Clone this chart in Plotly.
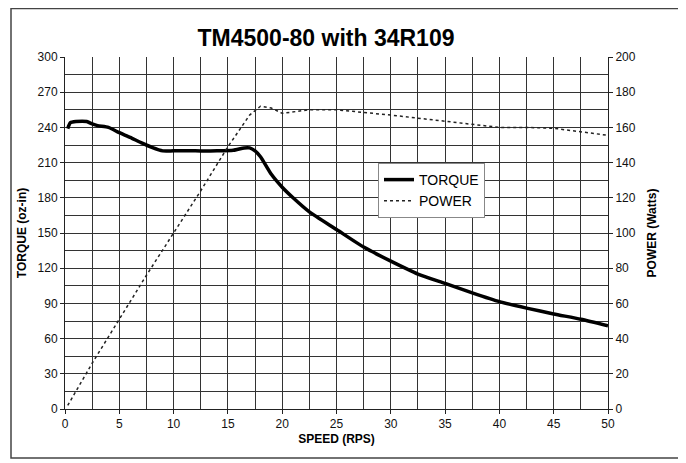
import plotly.graph_objects as go

# ---- data ----
torque_speed = [0.25, 0.5, 1, 2, 2.5, 3, 4, 5, 6, 7, 8, 9, 10, 12, 14, 15.5, 16.5, 17,
                17.5, 18, 19, 20, 21, 22.5, 25, 27.5, 30, 32.5, 35, 37.5, 40, 42.5,
                45, 47.5, 50]
torque = [239, 244, 245, 245, 243, 241.5, 240, 235.5, 231.5, 227, 223, 220, 220, 220,
          220, 220.5, 222.5, 222.5, 220, 215, 200, 189, 180, 168, 153, 138, 126, 115,
          107, 99, 91.5, 86, 81, 76.5, 71]

power_speed = [0.25, 2.5, 5, 7.5, 10, 12.5, 15, 17, 18, 19, 20, 22.5, 25, 30, 35, 40,
               42.5, 45, 50]
power = [2, 26, 51, 76, 100, 124, 149, 167, 172, 171, 168, 170, 170, 167, 163.5, 160,
         160, 159.5, 155.5]

title_text = "TM4500-80 with 34R109"
x_title = "SPEED (RPS)"
y_title = "TORQUE (oz-in)"
y2_title = "POWER (Watts)"

FONT = "Liberation Sans, Arial, sans-serif"
GRID = "#333"

# page body has an 8px margin, so the figure is sized/placed to compensate
W, H = 678, 455
L, T = 57, 49          # plot area left/top inside the figure
PW, PH = 543, 352      # plot area size


def px_x(px):  # window pixel -> paper x
    return (px - 8 - L) / PW


def px_y(py):  # window pixel -> paper y
    return (T + PH - (py - 8)) / PH


fig = go.Figure()
fig.add_trace(go.Scatter(x=torque_speed, y=torque, name="TORQUE", mode="lines",
                         line=dict(color="black", width=3.5, shape="spline", smoothing=0.6)))
fig.add_trace(go.Scatter(x=power_speed, y=power, name="POWER", mode="lines", yaxis="y2",
                         line=dict(color="#222", width=1.5, dash="dot")))

axis_common = dict(showline=True, linecolor="#222", linewidth=1, ticks="outside",
                   ticklen=4, tickcolor="#222", zeroline=False,
                   tickfont=dict(family=FONT, size=12, color="#111"))

fig.update_layout(
    width=W, height=H,
    margin=dict(l=L, r=W - L - PW, t=T, b=H - T - PH, autoexpand=False),
    paper_bgcolor="white", plot_bgcolor="white",
    title=dict(text="<b>" + title_text + "</b>", x=(326 - 8) / W, xanchor="center",
               y=1 - (38 - 8) / H, yanchor="middle",
               font=dict(family=FONT, size=23, color="black")),
    xaxis=dict(range=[0, 50], dtick=5, tick0=0, showgrid=True, gridcolor=GRID, gridwidth=1,
               minor=dict(dtick=2.5, showgrid=True, gridcolor=GRID, gridwidth=1),
               title=dict(text="<b>" + x_title + "</b>", standoff=4,
                          font=dict(family=FONT, size=12, color="black")),
               **axis_common),
    yaxis=dict(range=[0, 300], dtick=30, tick0=0, showgrid=True, gridcolor=GRID, gridwidth=1,
               minor=dict(dtick=15, showgrid=True, gridcolor=GRID, gridwidth=1),
               title=dict(text="<b>" + y_title + "</b>", standoff=8,
                          font=dict(family=FONT, size=12, color="black")),
               **axis_common),
    yaxis2=dict(range=[0, 200], dtick=20, tick0=0, overlaying="y", side="right",
                showgrid=False,
                title=dict(text="<b>" + y2_title + "</b>", standoff=12,
                           font=dict(family=FONT, size=12, color="black")),
                **axis_common),
    legend=dict(x=px_x(378), y=px_y(163), xanchor="left", yanchor="top",
                bgcolor="white", bordercolor="#888", borderwidth=1,
                font=dict(family=FONT, size=14, color="black"),
                itemwidth=30, tracegroupgap=0),
    showlegend=True,
)

# outer frame around the whole chart
fig.add_shape(type="rect", xref="paper", yref="paper",
              x0=px_x(11), x1=px_x(681), y0=px_y(458), y1=px_y(8.5),
              line=dict(color="#444", width=1.5), fillcolor="rgba(0,0,0,0)", layer="below")

fig.write_html("out.html")
